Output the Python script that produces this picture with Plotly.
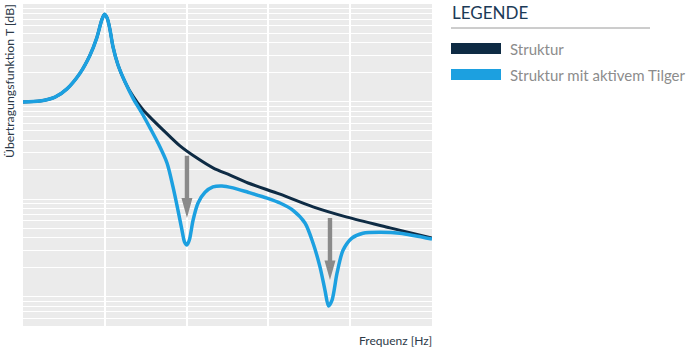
import math
import plotly.graph_objects as go

# ---------------- data ----------------
freq_struktur = [1, 1.61, 2.46, 3.45, 4.97, 6.59, 7.96, 9.17, 9.92, 10.7, 11.58, 12.6,
                 14.5, 17.7, 22.1, 29.3, 38.8, 51.4, 83.0, 134, 210, 340, 564, 1387,
                 3510, 9140, 30700, 100000]
T_struktur = [59.9, 60.1, 60.9, 62.6, 65.8, 69.5, 73.0, 76.7, 77.9, 77.1, 74.7, 71.2,
              67.5, 64.0, 61.1, 58.3, 56.2, 54.2, 50.9, 48.4, 46.4, 44.9, 43.3, 41.0,
              38.4, 36.3, 34.1, 32.0]

freq_tilger = [1, 1.61, 2.46, 3.45, 4.97, 6.59, 7.96, 9.17, 9.92, 10.7, 11.58, 12.6,
               14.5, 17.7, 22.1, 28.5, 35.7, 44.7, 57.6, 68.2, 78.5, 87.9, 94.3, 101,
               108, 120, 138, 168, 210, 271, 369, 564, 962, 1387, 2000, 2800, 3510,
               4270, 4920, 5430, 6000, 6900, 8170, 10500, 14300, 23100, 40600, 100000]
T_tilger = [59.9, 60.1, 60.9, 62.6, 65.8, 69.5, 73.0, 76.7, 77.9, 77.1, 74.7, 71.2,
            67.5, 64.0, 60.7, 57.6, 54.6, 51.5, 47.4, 42.5, 37.7, 33.6, 31.2, 30.6,
            31.6, 35.7, 39.2, 41.4, 42.5, 42.7, 42.3, 41.4, 40.2, 39.2, 37.7, 35.1,
            31.0, 26.1, 21.3, 18.1, 19.3, 24.8, 29.5, 32.0, 33.0, 33.2, 33.0, 31.8]

# arrows: frequency, start level, head base level, tip level (dB)
arrow_freq = [101, 5660]
arrow_start = [48.9, 36.1]
arrow_headbase = [40.2, 27.4]
arrow_tip = [36.1, 23.4]

series_names = ["Struktur", "Struktur mit aktivem Tilger"]
legend_title = "LEGENDE"
x_title = "Frequenz [Hz]"
y_title = "Übertragungsfunktion T [dB]"

# decade grid (frequency) and logarithmic level grid (dB)
x_grid = [10, 100, 1000, 10000]
y_grid_db = [20 * math.log10(k * 10 ** n) for n in range(0, 4) for k in range(1, 10)] + [80]

# ---------------- styling ----------------
C_DARK = "#0e2b44"
C_BLUE = "#1ca0e0"
C_ARROW = "#8a8a8a"
C_BG = "#ebebeb"
FONT = "Lato"

W, H = 700, 351
L, R, T, B = 23, 432, 4, 326  # plot area in pixels


def px2x(px):
    return (px - L) / (R - L)


def py2y(py):
    return (B - py) / (B - T)


fig = go.Figure()

fig.add_trace(go.Scatter(x=freq_struktur, y=T_struktur, mode="lines",
                         line=dict(color=C_DARK, width=3, shape="spline", smoothing=0.8),
                         name=series_names[0], hoverinfo="skip"))
fig.add_trace(go.Scatter(x=freq_tilger, y=T_tilger, mode="lines",
                         line=dict(color=C_BLUE, width=3.5, shape="spline", smoothing=0.8),
                         name=series_names[1], hoverinfo="skip"))

# arrows as filled polygons (shaft half width 2px, head half width 5.5px)
dec_per_px = 5 / (R - L)
hs = 10 ** (2.2 * dec_per_px)
hh = 10 ** (5.5 * dec_per_px)
for f, y0, yb, y1 in zip(arrow_freq, arrow_start, arrow_headbase, arrow_tip):
    xs = [f / hs, f / hs, f / hh, f, f * hh, f * hs, f * hs, f / hs]
    ys = [y0, yb, yb, y1, yb, yb, y0, y0]
    fig.add_trace(go.Scatter(x=xs, y=ys, mode="lines", fill="toself", fillcolor=C_ARROW,
                             line=dict(width=0, color=C_ARROW), hoverinfo="skip",
                             showlegend=False))

fig.update_xaxes(type="log", range=[0, 5], tickvals=x_grid, showticklabels=False,
                 showgrid=True, gridcolor="white", gridwidth=2, zeroline=False,
                 showline=False, ticks="")
fig.update_yaxes(range=[20 * math.log10(5), 80], tickvals=y_grid_db,
                 showticklabels=False, showgrid=True, gridcolor="white", gridwidth=1.3,
                 zeroline=False, showline=False, ticks="")

shapes = [
    dict(type="rect", xref="paper", yref="paper", x0=px2x(451), x1=px2x(501),
         y0=py2y(54), y1=py2y(43), fillcolor=C_DARK, line=dict(width=0)),
    dict(type="rect", xref="paper", yref="paper", x0=px2x(451), x1=px2x(501),
         y0=py2y(80), y1=py2y(69), fillcolor=C_BLUE, line=dict(width=0)),
    dict(type="line", xref="paper", yref="paper", x0=px2x(451), x1=px2x(650),
         y0=py2y(28), y1=py2y(28), line=dict(color="#9a9a9a", width=1)),
]

annotations = [
    dict(text=legend_title, xref="paper", yref="paper", x=px2x(450), y=py2y(12.5),
         xanchor="left", yanchor="middle", showarrow=False,
         font=dict(family=FONT, size=17, color="#1b3a57")),
    dict(text=series_names[0], xref="paper", yref="paper", x=px2x(508), y=py2y(48.5),
         xanchor="left", yanchor="middle", showarrow=False,
         font=dict(family=FONT, size=15, color="#8c8c8c")),
    dict(text=series_names[1], xref="paper", yref="paper", x=px2x(508), y=py2y(74.5),
         xanchor="left", yanchor="middle", showarrow=False,
         font=dict(family=FONT, size=15, color="#8c8c8c")),
    dict(text=x_title, xref="paper", yref="paper", x=px2x(434), y=py2y(340),
         xanchor="right", yanchor="middle", showarrow=False,
         font=dict(family=FONT, size=12, color="#2d3a48")),
    dict(text=y_title, xref="paper", yref="paper", x=px2x(9), y=py2y(2),
         xanchor="center", yanchor="top", showarrow=False, textangle=-90,
         font=dict(family=FONT, size=12.3, color="#2d3a48")),
]

fig.update_layout(width=W, height=H, margin=dict(l=L, r=W - R, t=T, b=H - B),
                  paper_bgcolor="white", plot_bgcolor=C_BG, showlegend=False,
                  shapes=shapes, annotations=annotations)

fig.write_html("out.html")
